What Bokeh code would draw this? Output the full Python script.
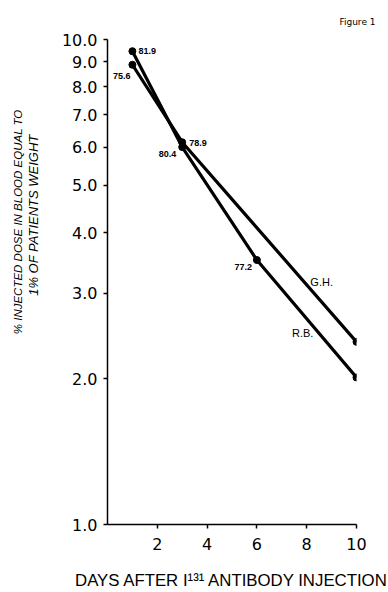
from bokeh.plotting import figure
from bokeh.models import ColumnDataSource, FixedTicker, Title
from bokeh.embed import file_html
from bokeh.resources import INLINE

# ---- data ----
gh_days = [1, 3, 10]
gh_values = [8.87, 6.14, 2.38]
gh_labels = ["75.6", "78.9", "78.1"]

rb_days = [1, 3, 6, 10]
rb_values = [9.46, 6.0, 3.51, 2.01]
rb_labels = ["81.9", "80.4", "77.2", "74.1"]

series_names = ["G.H.", "R.B."]
series_name_x = [8.6, 7.84]
series_name_y = [3.16, 2.48]

x_ticks = [2, 4, 6, 8, 10]
y_ticks = [1, 2, 3, 4, 5, 6, 7, 8, 9, 10]
y_tick_labels = ["1.0", "2.0", "3.0", "4.0", "5.0", "6.0", "7.0", "8.0", "9.0", "10.0"]

y_title_1 = "% INJECTED DOSE IN BLOOD EQUAL TO"
y_title_2 = "1% OF PATIENTS WEIGHT"
x_title = "DAYS AFTER I\u00b9\u00b3\u00b9 ANTIBODY INJECTION"
fig_title = "Figure 1"

# ---- label styling offsets (screen px) ----
gh_lab_align = ["right", "left", "left"]
gh_lab_dx = [-2, 7, 7]
gh_lab_dy = [11, 1, 2]
rb_lab_align = ["left", "right", "right", "left"]
rb_lab_dx = [6, -6, -5, 6]
rb_lab_dy = [0, 7, 7, 1]

p = figure(width=388, height=592, y_axis_type="log",
           x_range=(0, 10), y_range=(1, 10),
           output_backend="svg", toolbar_location=None,
           min_border_left=107, min_border_right=32,
           min_border_top=39, min_border_bottom=68)
p.outline_line_color = None
p.grid.visible = False
p.background_fill_color = "white"
p.border_fill_color = "white"

ax = p.xaxis[0]
ax.ticker = FixedTicker(ticks=x_ticks)
ax.major_tick_in = 0
ax.major_tick_out = 4
ax.minor_tick_line_color = None
ax.axis_line_width = 1.5
ax.major_tick_line_width = 1.5
ax.major_label_text_font = "DejaVu Sans"
ax.major_label_text_font_size = "16px"
ax.major_label_text_color = "black"
ax.major_label_standoff = 9
ax.axis_label = x_title
ax.axis_label_standoff = 18
ax.axis_label_text_font = "Liberation Sans"
ax.axis_label_text_font_style = "normal"
ax.axis_label_text_font_size = "16.8px"
ax.axis_label_text_color = "black"

ay = p.yaxis[0]
ay.ticker = FixedTicker(ticks=y_ticks)
ay.major_label_overrides = {t: l for t, l in zip(y_ticks, y_tick_labels)}
ay.major_tick_in = 0
ay.major_tick_out = 4
ay.minor_tick_line_color = None
ay.axis_line_width = 1.5
ay.major_tick_line_width = 1.5
ay.major_label_text_font = "DejaVu Sans"
ay.major_label_text_font_size = "16px"
ay.major_label_text_color = "black"
ay.major_label_standoff = 6

gh_src = ColumnDataSource(dict(x=gh_days, y=gh_values, t=gh_labels,
                               a=gh_lab_align, dx=gh_lab_dx, dy=gh_lab_dy))
rb_src = ColumnDataSource(dict(x=rb_days, y=rb_values, t=rb_labels,
                               a=rb_lab_align, dx=rb_lab_dx, dy=rb_lab_dy))

for src in (gh_src, rb_src):
    p.line("x", "y", source=src, line_color="black", line_width=3.2)
    p.scatter("x", "y", source=src, size=7, fill_color="black", line_color="black")
    p.text("x", "y", text="t", source=src, text_align="a", x_offset="dx", y_offset="dy",
           text_baseline="middle", text_font_size="9px", text_font_style="bold",
           text_color="black")

name_src = ColumnDataSource(dict(x=series_name_x, y=series_name_y, t=series_names))
p.text("x", "y", text="t", source=name_src, text_align="center", text_baseline="middle",
       text_font_size="11px", text_color="black")

# spacer between the y axis and the y title lines
p.add_layout(Title(text=" ", standoff=2, text_font="Liberation Sans",
                   text_font_size="12px"), "left")
# y-axis title: two lines, closest first
p.add_layout(Title(text=y_title_2, align="right", offset=95, standoff=0,
                   text_font="Liberation Sans", text_font_style="italic",
                   text_font_size="13px", text_color="black"), "left")
p.add_layout(Title(text=y_title_1, align="right", offset=70, standoff=0,
                   text_font="Liberation Sans", text_font_style="italic",
                   text_font_size="11.5px", text_color="black"), "left")
p.add_layout(Title(text=fig_title, align="right", offset=-19, standoff=25,
                   text_font="DejaVu Sans", text_font_style="normal",
                   text_font_size="9px", text_color="black"), "above")

open("out.html", "w").write(file_html(p, INLINE))
